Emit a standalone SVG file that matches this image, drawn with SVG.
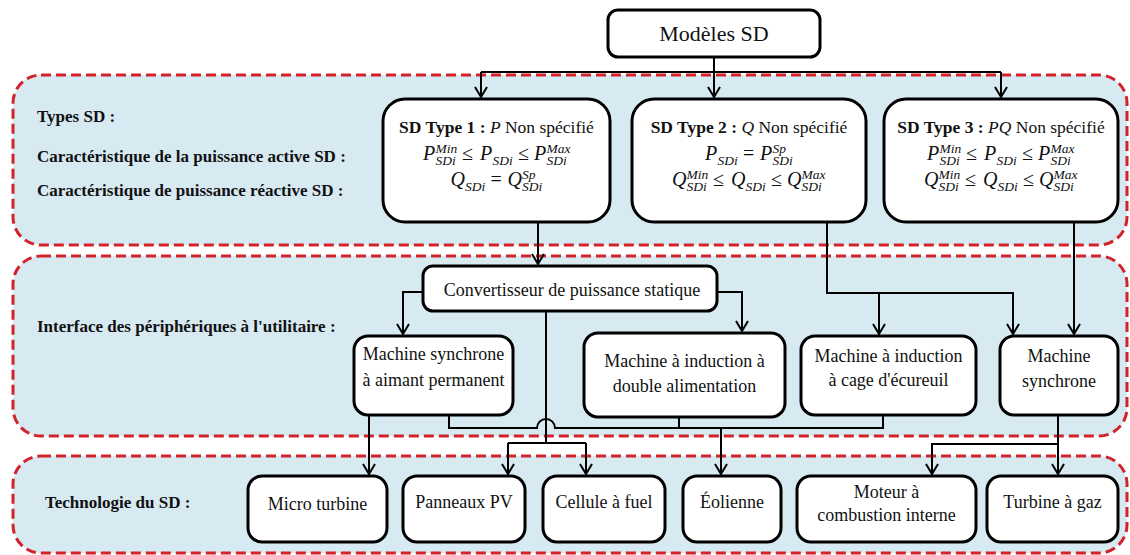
<svg xmlns="http://www.w3.org/2000/svg" width="1130" height="555" viewBox="0 0 1130 555">
<style>
.band{fill:#d7e9f1;stroke:#d2232a;stroke-width:3;stroke-dasharray:10 5}
.node rect{fill:#fff;stroke:#000;stroke-width:3}
.t{font-family:"Liberation Serif","Times New Roman",serif;font-size:18px;fill:#111}
.c{text-anchor:middle}
.lbl{font-family:"Liberation Serif","Times New Roman",serif;font-weight:bold;font-size:17px;fill:#111}
.ti{font-family:"Liberation Serif","Times New Roman",serif;font-size:17.5px;fill:#111}
.b{font-weight:bold}
.i{font-style:italic}
.m{font-family:"Liberation Serif","Times New Roman",serif;font-style:italic;font-size:20px;fill:#111}
.s{font-style:italic;font-size:13.5px}
.o{font-style:normal;font-size:20px}
.conn path{fill:none;stroke:#000;stroke-width:2}
</style>
<defs>
<marker id="arr" viewBox="0 0 12 14" refX="11" refY="7" markerWidth="12" markerHeight="14" markerUnits="userSpaceOnUse" orient="auto">
<path d="M1,1 L11,7 L1,13" fill="none" stroke="#000" stroke-width="2"/>
</marker>
</defs>
<rect width="1130" height="555" fill="#fff"/>
<g id="bands">
<rect class="band" x="13" y="75" width="1114" height="170" rx="28"/>
<rect class="band" x="13" y="256" width="1114" height="180" rx="28"/>
<rect class="band" x="13" y="456" width="1114" height="97" rx="28"/>
<text class="lbl" x="37" y="122">Types SD :</text>
<text class="lbl" x="37" y="162">Caractéristique de la puissance active SD :</text>
<text class="lbl" x="37" y="196">Caractéristique de puissance réactive SD :</text>
<text class="lbl" x="37" y="332">Interface des périphériques à l'utilitaire :</text>
<text class="lbl" x="45" y="508">Technologie du SD :</text>
</g>
<g class="conn" id="connectors">
<path d="M714,57 V97"/>
<path d="M481,72 H1001"/>
<path d="M714,72 V97" marker-end="url(#arr)"/>
<path d="M481,72 V97" marker-end="url(#arr)"/>
<path d="M1001,72 V97" marker-end="url(#arr)"/>
<path d="M538,222 V264" marker-end="url(#arr)"/>
<path d="M423,292 H403 V334" marker-end="url(#arr)"/>
<path d="M717,292 H742 V331" marker-end="url(#arr)"/>
<path d="M546,311 V443"/>
<path d="M508,443 H586"/>
<path d="M508,443 V474" marker-end="url(#arr)"/>
<path d="M586,443 V474" marker-end="url(#arr)"/>
<path d="M369,415 V474" marker-end="url(#arr)"/>
<path d="M449,415 V428 H537 A9,9 0 0 1 555,428 H883 V415"/>
<path d="M679,417 V428"/>
<path d="M721,428 V474" marker-end="url(#arr)"/>
<path d="M827,222 V293 H1013 V334" marker-end="url(#arr)"/>
<path d="M879,293 V334" marker-end="url(#arr)"/>
<path d="M1074,222 V334" marker-end="url(#arr)"/>
<path d="M1058,415 V474" marker-end="url(#arr)"/>
<path d="M1058,444 H932 V474" marker-end="url(#arr)"/>
</g>
<g class="node" id="modeles"><rect x="608" y="10" width="212" height="47" rx="10"/><text class="t c" x="714" y="41" style="font-size:22px">Modèles SD</text></g>
<g class="node" id="type1"><rect x="383" y="99" width="227" height="123" rx="22"/>
<text class="ti c" x="496.5" y="133"><tspan class="b">SD Type 1 : </tspan><tspan class="i">P</tspan> Non spécifié</text>
<text class="m" y="160"><tspan x="423">P</tspan><tspan class="s" x="435.5" y="152.5">Min</tspan><tspan class="s" x="435.5" y="164.5">SDi</tspan><tspan class="o" x="462" y="160">≤</tspan><tspan x="480" y="160">P</tspan><tspan class="s" x="492.5" y="164.5">SDi</tspan><tspan class="o" x="518" y="160">≤</tspan><tspan x="534" y="160">P</tspan><tspan class="s" x="546.5" y="152.5">Max</tspan><tspan class="s" x="546.5" y="164.5">SDi</tspan></text>
<text class="m" y="186"><tspan x="450.5">Q</tspan><tspan class="s" x="465" y="190.5">SDi</tspan><tspan class="o" x="490.5" y="186">=</tspan><tspan x="507.5" y="186">Q</tspan><tspan class="s" x="522" y="178.5">Sp</tspan><tspan class="s" x="522" y="190.5">SDi</tspan></text>
</g>
<g class="node" id="type2"><rect x="632" y="99" width="234" height="123" rx="22"/>
<text class="ti c" x="749" y="133"><tspan class="b">SD Type 2 : </tspan><tspan class="i">Q</tspan> Non spécifié</text>
<text class="m" y="160"><tspan x="705">P</tspan><tspan class="s" x="717.5" y="164.5">SDi</tspan><tspan class="o" x="743" y="160">=</tspan><tspan x="760" y="160">P</tspan><tspan class="s" x="772.5" y="152.5">Sp</tspan><tspan class="s" x="772.5" y="164.5">SDi</tspan></text>
<text class="m" y="186"><tspan x="672">Q</tspan><tspan class="s" x="686.5" y="178.5">Min</tspan><tspan class="s" x="686.5" y="190.5">SDi</tspan><tspan class="o" x="713" y="186">≤</tspan><tspan x="731" y="186">Q</tspan><tspan class="s" x="745.5" y="190.5">SDi</tspan><tspan class="o" x="771" y="186">≤</tspan><tspan x="787" y="186">Q</tspan><tspan class="s" x="801.5" y="178.5">Max</tspan><tspan class="s" x="801.5" y="190.5">SDi</tspan></text>
</g>
<g class="node" id="type3"><rect x="884" y="99" width="234" height="123" rx="22"/>
<text class="ti c" x="1001" y="133"><tspan class="b">SD Type 3 : </tspan><tspan class="i">PQ</tspan> Non spécifié</text>
<text class="m" y="160"><tspan x="927">P</tspan><tspan class="s" x="939.5" y="152.5">Min</tspan><tspan class="s" x="939.5" y="164.5">SDi</tspan><tspan class="o" x="966" y="160">≤</tspan><tspan x="984" y="160">P</tspan><tspan class="s" x="996.5" y="164.5">SDi</tspan><tspan class="o" x="1022" y="160">≤</tspan><tspan x="1038" y="160">P</tspan><tspan class="s" x="1050.5" y="152.5">Max</tspan><tspan class="s" x="1050.5" y="164.5">SDi</tspan></text>
<text class="m" y="186"><tspan x="924">Q</tspan><tspan class="s" x="938.5" y="178.5">Min</tspan><tspan class="s" x="938.5" y="190.5">SDi</tspan><tspan class="o" x="965" y="186">≤</tspan><tspan x="983" y="186">Q</tspan><tspan class="s" x="997.5" y="190.5">SDi</tspan><tspan class="o" x="1023" y="186">≤</tspan><tspan x="1039" y="186">Q</tspan><tspan class="s" x="1053.5" y="178.5">Max</tspan><tspan class="s" x="1053.5" y="190.5">SDi</tspan></text>
</g>
<g class="node" id="convertisseur"><rect x="423" y="266" width="294" height="45" rx="10"/><text class="t c" x="572" y="296">Convertisseur de puissance statique</text></g>
<g class="node" id="msap"><rect x="354" y="336" width="159" height="79" rx="14"/><text class="t c" x="433.5" y="360">Machine synchrone</text><text class="t c" x="433.5" y="386">à aimant permanent</text></g>
<g class="node" id="mada"><rect x="584" y="333" width="201" height="84" rx="14"/><text class="t c" x="684.5" y="367">Machine à induction à</text><text class="t c" x="684.5" y="392">double alimentation</text></g>
<g class="node" id="mas"><rect x="801" y="336" width="175" height="79" rx="14"/><text class="t c" x="888.5" y="362">Machine à induction</text><text class="t c" x="888.5" y="386">à cage d'écureuil</text></g>
<g class="node" id="ms"><rect x="1000" y="336" width="118" height="79" rx="14"/><text class="t c" x="1059" y="362">Machine</text><text class="t c" x="1059" y="387">synchrone</text></g>
<g class="node" id="micro"><rect x="248" y="476" width="139" height="66" rx="14"/><text class="t c" x="317.5" y="510">Micro turbine</text></g>
<g class="node" id="pv"><rect x="403" y="476" width="122" height="66" rx="14"/><text class="t c" x="464" y="508">Panneaux PV</text></g>
<g class="node" id="fuel"><rect x="543" y="476" width="122" height="66" rx="14"/><text class="t c" x="604" y="508">Cellule à fuel</text></g>
<g class="node" id="eolienne"><rect x="683" y="476" width="98" height="66" rx="14"/><text class="t c" x="732" y="508">Éolienne</text></g>
<g class="node" id="moteur"><rect x="797" y="476" width="179" height="66" rx="14"/><text class="t c" x="886.5" y="498">Moteur à</text><text class="t c" x="886.5" y="521">combustion interne</text></g>
<g class="node" id="turbine"><rect x="987" y="476" width="131" height="66" rx="14"/><text class="t c" x="1052.5" y="508">Turbine à gaz</text></g>
</svg>
